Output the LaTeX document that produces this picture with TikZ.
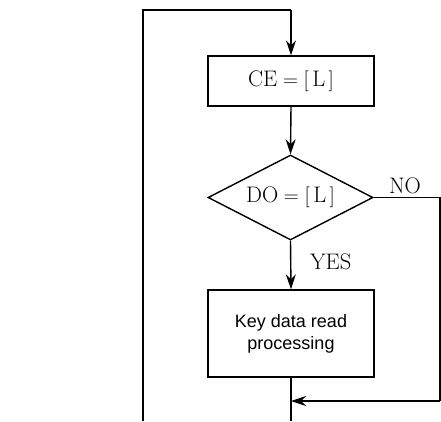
\documentclass[tikz,border=0pt]{standalone}
\usepackage{amsmath}
\usepackage{fontspec}
\newfontfamily\keyfont{Liberation Sans}
\usetikzlibrary{shapes.geometric,arrows.meta}
\tikzset{
    procbox/.style={draw, rectangle, minimum width=166pt, inner sep=0pt,
    	align=center}
}
\tikzset{
    decision/.style={draw, diamond, aspect=2, minimum width=165pt,
    	minimum height=85pt, inner sep=0pt}
}
\tikzset{
    flowarrow/.style={-{Stealth[length=15pt,width=10pt,inset=5pt]}}
}
\tikzset{
    lbl/.style={font=\fontsize{22.5}{26}\selectfont}
}

\begin{document}
\begin{tikzpicture}[x=1pt, y=-1pt, line width=1.4pt]
	\useasboundingbox (0,0) rectangle (441,421);
	\node [procbox, minimum height=50pt, lbl] (ce) at (291,81)
		{$\mathrm{CE}=[\,\mathrm{L}\,]$};
	\node [decision, lbl] (do) at (290.5,197.5)
		{$\mathrm{DO}=[\,\mathrm{L}\,]$};
	\node [procbox, minimum height=87pt,
		font=\keyfont\fontsize{18}{22}\selectfont] (key) at (291,333.5)
		{Key data read\\processing};
	\coordinate (tl) at (143,10);
	\coordinate (tr) at (291,10);
	\coordinate (bl) at (143,421);
	\coordinate (r1) at (440,197.5);
	\coordinate (r2) at (440,401);
	\coordinate (j) at (291,401);
	\coordinate (bb) at (291,421);
	\node [lbl, anchor=base] (no) at (405,193) {NO};
	\node [lbl, anchor=west] (yes) at (306,262) {YES};
	\draw (bl) -- (tl) -- (tr);
	\draw [flowarrow] (tr) -- (ce.north);
	\draw [flowarrow] (ce.south) -- (do.north);
	\draw [flowarrow] (do.south) -- (key.north);
	\draw (do.east) -- (r1) -- (r2);
	\draw [flowarrow] (r2) -- (j);
	\draw (key.south) -- (bb);
\end{tikzpicture}
\end{document}
